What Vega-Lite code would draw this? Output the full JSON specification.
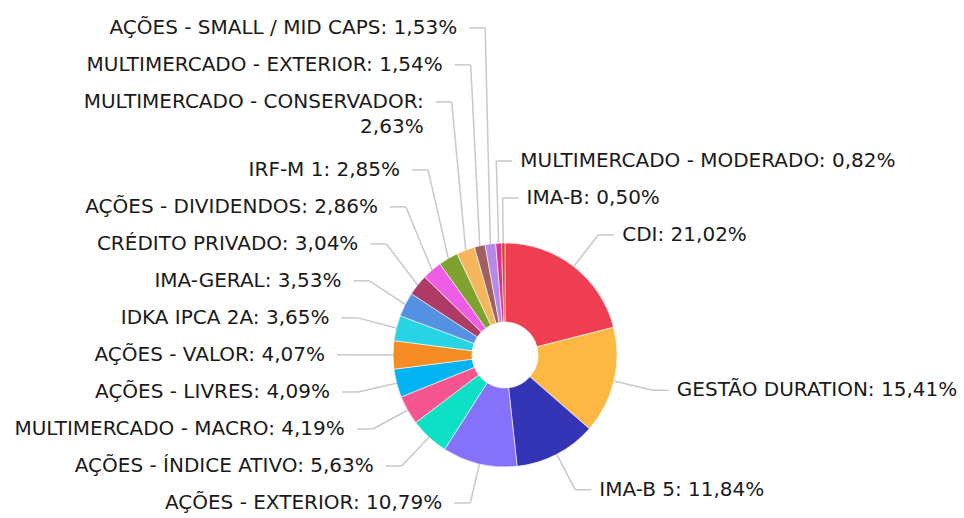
{
  "$schema": "https://vega.github.io/schema/vega-lite/v6.json",
  "width": 918,
  "height": 326,
  "padding": {"left": 46, "top": 192, "right": 0, "bottom": 0},
  "autosize": {"type": "none"},
  "background": "white",
  "config": {"view": {"stroke": null}},
  "data": {
    "values": [
      {"o": 1, "cat": "CDI", "v": 21.02},
      {"o": 2, "cat": "GESTÃO DURATION", "v": 15.41},
      {"o": 3, "cat": "IMA-B 5", "v": 11.84},
      {"o": 4, "cat": "AÇÕES - EXTERIOR", "v": 10.79},
      {"o": 5, "cat": "AÇÕES - ÍNDICE ATIVO", "v": 5.63},
      {"o": 6, "cat": "MULTIMERCADO - MACRO", "v": 4.19},
      {"o": 7, "cat": "AÇÕES - LIVRES", "v": 4.09},
      {"o": 8, "cat": "AÇÕES - VALOR", "v": 4.07},
      {"o": 9, "cat": "IDKA IPCA 2A", "v": 3.65},
      {"o": 10, "cat": "IMA-GERAL", "v": 3.53},
      {"o": 11, "cat": "CRÉDITO PRIVADO", "v": 3.04},
      {"o": 12, "cat": "AÇÕES - DIVIDENDOS", "v": 2.86},
      {"o": 13, "cat": "IRF-M 1", "v": 2.85},
      {"o": 14, "cat": "MULTIMERCADO - CONSERVADOR", "v": 2.63},
      {"o": 15, "cat": "MULTIMERCADO - EXTERIOR", "v": 1.54},
      {"o": 16, "cat": "AÇÕES - SMALL / MID CAPS", "v": 1.53},
      {"o": 17, "cat": "MULTIMERCADO - MODERADO", "v": 0.82},
      {"o": 18, "cat": "IMA-B", "v": 0.50}
    ]
  },
  "transform": [
    {"joinaggregate": [{"op": "sum", "field": "v", "as": "total"}]},
    {"window": [{"op": "sum", "field": "v", "as": "cum"}], "sort": [{"field": "o", "order": "ascending"}], "frame": [null, 0]},
    {"calculate": "2*PI*(datum.cum - datum.v/2)/datum.total", "as": "m"},
    {"calculate": "sin(datum.m)", "as": "sx"},
    {"calculate": "-cos(datum.m)", "as": "cyv"},
    {"calculate": "datum.sx > -0.09 ? 'R' : 'L'", "as": "side"},
    {"calculate": "datum.side == 'R' ? 1 : -1", "as": "dir"},
    {"calculate": "112*datum.sx", "as": "ex"},
    {"calculate": "112*datum.cyv", "as": "ey"},
    {"calculate": "152*datum.sx", "as": "tx"},
    {"calculate": "datum.tx + 16*datum.dir", "as": "lx"},
    {"calculate": "152*datum.cyv", "as": "ny"},
    {"calculate": "round(datum.ny)", "as": "nyr"},
    {"calculate": "replace(format(datum.v, '.2f'), '.', ',') + '%'", "as": "pct"},
    {"calculate": "datum.cat + ': ' + datum.pct", "as": "full"},
    {"calculate": "length(datum.full) > 32 ? 2 : 1", "as": "nl"},
    {"calculate": "datum.nl == 2 ? [datum.cat + ':', datum.pct] : datum.full", "as": "lab"},
    {"calculate": "6 + 31*datum.nl", "as": "h"},
    {"window": [{"op": "sum", "field": "h", "as": "cs"}], "groupby": ["side"], "sort": [{"field": "nyr", "order": "descending"}, {"field": "o", "order": "descending"}], "frame": [null, 0]},
    {"calculate": "datum.ny + datum.cs", "as": "t"},
    {"window": [{"op": "min", "field": "t", "as": "mt"}], "groupby": ["side"], "sort": [{"field": "nyr", "order": "descending"}, {"field": "o", "order": "descending"}], "frame": [null, 0]},
    {"calculate": "datum.mt - datum.cs", "as": "ly"}
  ],
  "layer": [
    {
      "mark": {"type": "arc", "outerRadius": 112, "innerRadius": 33, "stroke": "white", "strokeWidth": 0.6},
      "encoding": {
        "theta": {"field": "v", "type": "quantitative", "stack": true},
        "order": {"field": "o", "type": "quantitative"},
        "color": {
          "field": "cat",
          "type": "nominal",
          "legend": null,
          "scale": {
            "domain": ["CDI", "GESTÃO DURATION", "IMA-B 5", "AÇÕES - EXTERIOR", "AÇÕES - ÍNDICE ATIVO", "MULTIMERCADO - MACRO", "AÇÕES - LIVRES", "AÇÕES - VALOR", "IDKA IPCA 2A", "IMA-GERAL", "CRÉDITO PRIVADO", "AÇÕES - DIVIDENDOS", "IRF-M 1", "MULTIMERCADO - CONSERVADOR", "MULTIMERCADO - EXTERIOR", "AÇÕES - SMALL / MID CAPS", "MULTIMERCADO - MODERADO", "IMA-B"],
            "range": ["#ef3e52", "#fdb844", "#3434b7", "#8571fa", "#0de0c5", "#f6558f", "#03b3f2", "#f68c24", "#27d4e4", "#5591e2", "#ae3a67", "#ee5de6", "#7da22e", "#f4b55d", "#a0605f", "#b38be6", "#e02f8f", "#d9432e"]
          }
        }
      }
    },
    {
      "mark": {"type": "rule", "stroke": "#c9c9c9", "strokeWidth": 1.5},
      "encoding": {
        "x": {"field": "ex", "type": "quantitative", "scale": {"domain": [-459, 459], "nice": false, "zero": false}, "axis": null},
        "y": {"field": "ey", "type": "quantitative", "scale": {"domain": [-163, 163], "reverse": true, "nice": false, "zero": false}, "axis": null},
        "x2": {"field": "tx"},
        "y2": {"field": "ly"}
      }
    },
    {
      "mark": {"type": "rule", "stroke": "#c9c9c9", "strokeWidth": 1.5},
      "encoding": {
        "x": {"field": "tx", "type": "quantitative"},
        "y": {"field": "ly", "type": "quantitative"},
        "x2": {"field": "lx"}
      }
    },
    {
      "transform": [{"filter": "datum.side == 'L'"}],
      "mark": {"type": "text", "align": "right", "baseline": "middle", "dx": -12, "font": "DejaVu Sans", "fontSize": 20, "color": "#1a1a1a", "lineHeight": 25},
      "encoding": {
        "x": {"field": "lx", "type": "quantitative"},
        "y": {"field": "ly", "type": "quantitative"},
        "text": {"field": "lab"}
      }
    },
    {
      "transform": [{"filter": "datum.side == 'R'"}],
      "mark": {"type": "text", "align": "left", "baseline": "middle", "dx": 8, "font": "DejaVu Sans", "fontSize": 20, "color": "#1a1a1a", "lineHeight": 25},
      "encoding": {
        "x": {"field": "lx", "type": "quantitative"},
        "y": {"field": "ly", "type": "quantitative"},
        "text": {"field": "lab"}
      }
    }
  ]
}
